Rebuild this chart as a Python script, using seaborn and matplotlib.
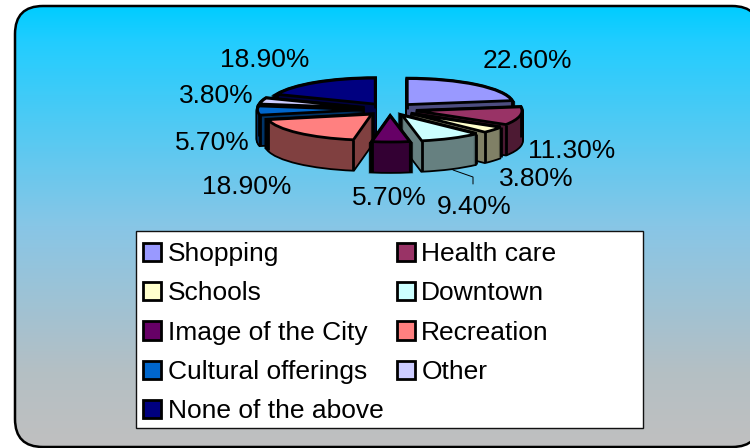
import numpy as np
import matplotlib
matplotlib.use("Agg")
import matplotlib.pyplot as plt
from matplotlib.colors import LinearSegmentedColormap, to_rgb
from matplotlib.patches import FancyBboxPatch, Patch, Rectangle
import seaborn as sns

categories = ["Shopping", "Health care", "Schools", "Downtown", "Image of the City",
              "Recreation", "Cultural offerings", "Other", "None of the above"]
values = [22.6, 11.3, 3.8, 9.4, 5.7, 18.9, 5.7, 3.8, 18.9]
colors = ["#9999FF", "#993366", "#FFFFCC", "#CCFFFF", "#660066",
          "#FF8080", "#0066CC", "#CCCCFF", "#000080"]
label_x = [527, 572, 536, 474, 389, 247, 212, 216, 265]
label_y = [61, 151, 179, 207, 198, 187, 143, 96, 60]

sns.set_theme(style="white")
plt.rcParams["font.family"] = ["Liberation Sans", "DejaVu Sans"]
W, H = 750, 448
fig = plt.figure(figsize=(W / 100, H / 100), dpi=100, facecolor="white")

# background panel (its right side runs off the canvas)
bg = fig.add_axes([0, 0, 1, 1], zorder=0)
bg.set_xlim(0, W); bg.set_ylim(H, 0); bg.axis("off")
cmap = LinearSegmentedColormap.from_list(
    "panel", [(0, "#00CCFF"), (0.08, "#22CDFF"), (0.5, "#88C6E6"), (0.83, "#B4BFC4"), (1, "#C0C0C0")])
L, T, R, B, RAD = 15, 6, 760, 447, 28
im = bg.imshow(np.linspace(0, 1, 256)[:, None], cmap=cmap, aspect="auto",
               extent=(L, R, B, T), zorder=1)
# a barely-there fill stops Agg from clipping the off-canvas curves into straight segments
panel = FancyBboxPatch((L + RAD, T + RAD), R - L - 2 * RAD, B - T - 2 * RAD,
                       boxstyle=f"round,pad={RAD},rounding_size={RAD}",
                       fc=(1, 1, 1, 0.004), ec="#000000", lw=1.8, zorder=2)
bg.add_patch(panel)
im.set_clip_path(panel)
bg.set_xlim(0, W); bg.set_ylim(H, 0)

# squashed exploded pie, extruded downward
RX, RY, DEPTH = 106.0, 26.0, 30
CX, CY = 390.0, 109.5
xspan, ytop, ybot = 1.5, 1.5, 3.0
pie_ax = fig.add_axes([(CX - xspan * RX) / W, 1 - (CY + ybot * RY) / H,
                       2 * xspan * RX / W, (ytop + ybot) * RY / H], zorder=1)
pie_ax.patch.set_alpha(0)

cum = np.cumsum([0] + values) / sum(values) * 360
mids = (cum[:-1] + cum[1:]) / 2
rank = np.argsort(np.argsort(-np.cos(np.radians(mids))))
dark = [tuple(0.5 * c for c in to_rgb(col)) for col in colors]
explode = [0.25] * len(values)


def layer(offset, cols, lw, ec, dz):
    wedges, _ = pie_ax.pie(values, colors=cols, explode=explode, startangle=90,
                           counterclock=False, radius=1, center=(0, -offset),
                           wedgeprops=dict(linewidth=lw, edgecolor=ec, joinstyle="miter"))
    for i, w in enumerate(wedges):
        w.set_zorder(10 + 10 * rank[i] + dz)
        w.set_clip_on(False)
    return wedges


offsets = np.arange(0, DEPTH + 1) / RY
for off in offsets:
    layer(off, ["black"] * len(values), 2.6, "black", 0)
for off in offsets[1:]:
    layer(off, dark, 0, "none", 1)
top = layer(0, colors, 2.0, "black", 3)
for i, w in enumerate(top):
    for th in (w.theta1, w.theta2):
        px = w.center[0] + w.r * np.cos(np.radians(th))
        py = w.center[1] + w.r * np.sin(np.radians(th))
        pie_ax.plot([px, px], [py, py - DEPTH / RY], color="black", lw=2,
                    zorder=10 + 10 * rank[i] + 2, solid_capstyle="butt", clip_on=False)
pie_ax.set_aspect("auto")
pie_ax.set_xlim(-xspan, xspan)
pie_ax.set_ylim(-ybot, ytop)
pie_ax.axis("off")

# overlay: labels, leader line, legend
ov = fig.add_axes([0, 0, 1, 1], zorder=2)
ov.set_xlim(0, W); ov.set_ylim(H, 0); ov.axis("off")
for v, x, y in zip(values, label_x, label_y):
    ov.text(x, y, f"{v:.2f}%", fontsize=19, color="black", ha="center", va="center")
ov.plot([453, 473, 473], [170, 177, 184], color="black", lw=0.7)

ov.add_patch(Rectangle((136, 231), 507, 197, fc="white", ec="#111111", lw=1))
handles = [Patch(facecolor=c, edgecolor="black", linewidth=2) for c in colors]
order = [0, 2, 4, 6, 8, 1, 3, 5, 7]
leg = ov.legend([handles[i] for i in order], [categories[i] for i in order],
                ncol=2, frameon=False, fontsize=19, loc="upper left",
                bbox_to_anchor=(134 / W, 1 - 233 / H), bbox_transform=fig.transFigure,
                borderaxespad=0, borderpad=0.35, handlelength=0.68, handleheight=0.68,
                handletextpad=0.25, labelspacing=0.578, columnspacing=0.5)
for t in leg.get_texts():
    t.set_color("black")

fig.savefig("out.png", dpi=100, facecolor="white")
